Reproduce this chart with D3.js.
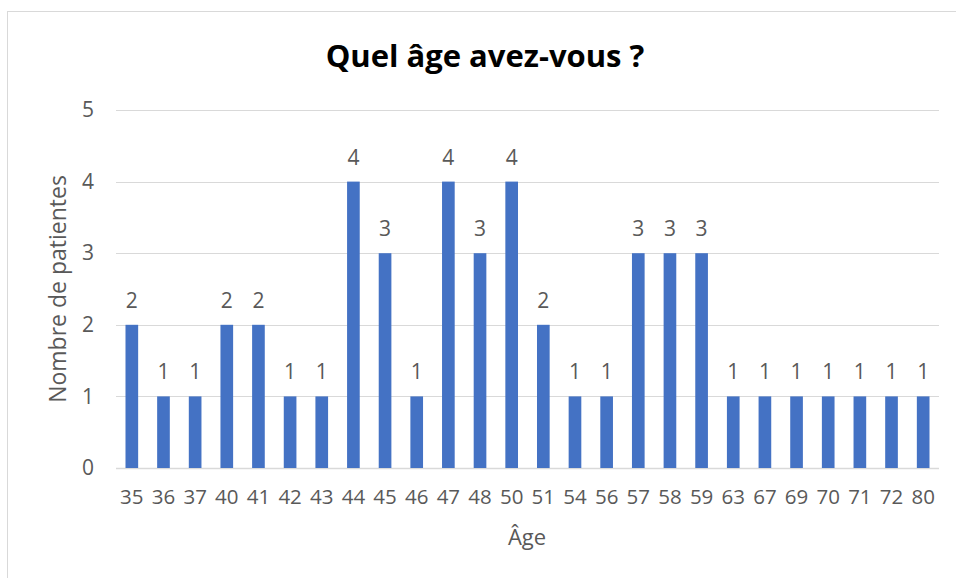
<!DOCTYPE html>
<html>
<head>
<meta charset="utf-8">
<script src="https://cdn.jsdelivr.net/npm/d3@7"></script>
<style>
  html, body { margin: 0; padding: 0; background: #fff; }
  svg { display: block; font-family: "Open Sans", sans-serif; }
</style>
</head>
<body>
<svg id="chart" width="956" height="578"></svg>
<script>
// Age of respondents and how many patients gave each answer
const ages = ["35","36","37","40","41","42","43","44","45","46","47","48","50","51","54","56","57","58","59","63","67","69","70","71","72","80"];
const counts = [2,1,1,2,2,1,1,4,3,1,4,3,4,2,1,1,3,3,3,1,1,1,1,1,1,1];
const yTicks = [0,1,2,3,4,5];

const svg = d3.select("#chart");
const W = 956, H = 578;
const margin = { left: 116, right: 17, top: 110, bottom: 110 };
const textColor = "#595959";
const gridColor = "#d9d9d9";
const barColor = "#4472c4";

// Chart frame
svg.append("rect")
  .attr("x", 7.5).attr("y", 11.5)
  .attr("width", W + 10).attr("height", H + 10)
  .attr("fill", "none").attr("stroke", "#d9d9d9").attr("stroke-width", 1);

const x = d3.scaleBand()
  .domain(ages)
  .range([margin.left, W - margin.right])
  .paddingInner(0.6).paddingOuter(0.3);

const y = d3.scaleLinear()
  .domain([0, 5])
  .range([H - margin.bottom, margin.top]);

// Horizontal gridlines
svg.append("g")
  .selectAll("line")
  .data(yTicks)
  .join("line")
  .attr("x1", margin.left).attr("x2", W - margin.right)
  .attr("y1", d => Math.round(y(d)) + 0.5).attr("y2", d => Math.round(y(d)) + 0.5)
  .attr("stroke", gridColor).attr("stroke-width", d => d === 0 ? 1.5 : 1);

// Y axis labels
const yAxis = svg.append("g")
  .attr("transform", `translate(${margin.left},0)`)
  .call(d3.axisLeft(y).tickValues(yTicks).tickSize(0).tickPadding(22).tickFormat(d3.format("d")));
yAxis.select(".domain").remove();
yAxis.selectAll("text")
  .attr("fill", textColor).style("font-size", "21px").style("font-family", "Open Sans, sans-serif");

// X axis labels
const xAxis = svg.append("g")
  .attr("transform", `translate(0,${y(0)})`)
  .call(d3.axisBottom(x).tickSize(0).tickPadding(21));
xAxis.select(".domain").remove();
xAxis.selectAll("text")
  .attr("fill", textColor).style("font-size", "20.5px").style("font-family", "Open Sans, sans-serif");

// Bars
svg.append("g")
  .selectAll("rect")
  .data(ages)
  .join("rect")
  .attr("x", d => x(d))
  .attr("width", x.bandwidth())
  .attr("y", (d, i) => y(counts[i]))
  .attr("height", (d, i) => y(0) - y(counts[i]))
  .attr("fill", barColor);

// Value labels
svg.append("g")
  .selectAll("text")
  .data(ages)
  .join("text")
  .attr("x", d => x(d) + x.bandwidth() / 2)
  .attr("y", (d, i) => y(counts[i]) - 17)
  .attr("text-anchor", "middle")
  .attr("fill", textColor)
  .style("font-size", "21px")
  .text((d, i) => counts[i]);

// Title
svg.append("text")
  .attr("x", 485).attr("y", 67)
  .attr("text-anchor", "middle")
  .attr("fill", "#000")
  .style("font-size", "31px").style("font-weight", "bold")
  .text("Quel âge avez-vous ?");

// Axis titles
svg.append("text")
  .attr("x", 527).attr("y", 545)
  .attr("text-anchor", "middle")
  .attr("fill", textColor)
  .style("font-size", "22px")
  .text("Âge");

svg.append("text")
  .attr("transform", `translate(66,${(y(0) + y(5)) / 2}) rotate(-90)`)
  .attr("text-anchor", "middle")
  .attr("fill", textColor)
  .style("font-size", "23px")
  .text("Nombre de patientes");
</script>
</body>
</html>
